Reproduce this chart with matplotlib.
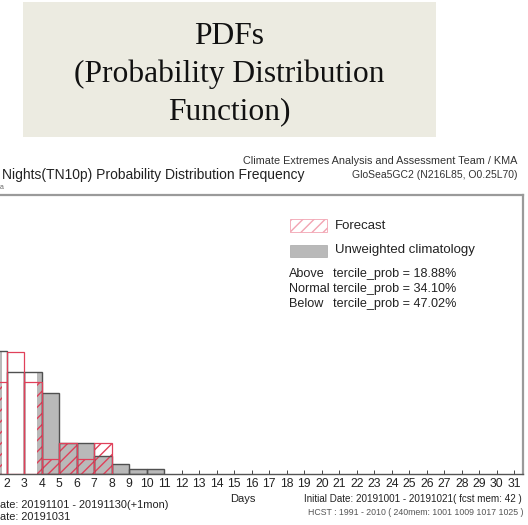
import matplotlib

matplotlib.use("Agg")
import matplotlib.pyplot as plt
from matplotlib.patches import Rectangle

W, H = 528, 525

# bin start day for each bar (bars run from day to day+1)
clim_days = [1, 2, 3, 4, 5, 6, 7, 8, 9, 10]
clim_freq = [19.2, 15.8, 15.8, 12.55, 4.87, 4.87, 2.8, 1.56, 0.73, 0.73]
fcst_days = [1, 2, 3, 4, 5, 6, 7]
fcst_freq = [14.29, 19.05, 14.29, 2.38, 4.76, 2.38, 4.76]

tick_days = list(range(0, 32))
tercile_names = ["Above", "Normal", "Below"]
tercile_probs = [18.88, 34.10, 47.02]

SANS = "Liberation Sans"
CLIM_FILL = "#b9b9b9"
CLIM_EDGE = "#505050"
FCST_RED = "#e0405a"


def fx(px):
    return px / W


def fy(py):
    return 1 - py / H


fig = plt.figure(figsize=(W / 100, H / 100), dpi=100)
fig.patch.set_facecolor("white")

# heading box
fig.add_artist(Rectangle((fx(23), fy(137)), fx(436) - fx(23), fy(2) - fy(137),
                         transform=fig.transFigure, facecolor="#ecebe1",
                         edgecolor="none"))
fig.text(fx(229.5), fy(74), "PDFs\n(Probability Distribution\nFunction)",
         ha="center", va="center", family="Liberation Serif", fontsize=22.7,
         linespacing=1.38, color="#111111")

# main axes (extends past the left edge of the canvas)
left, right, top, bottom = -37, 523, 195, 474
ax = fig.add_axes([fx(left), fy(bottom), fx(right) - fx(left), (bottom - top) / H])
ax.set_xlim(-0.5, 31.5)
ax.set_ylim(0, 43.4)

ax.bar(clim_days, clim_freq, width=1, align="edge", color=CLIM_FILL,
       edgecolor="none", zorder=1)
ax.bar(fcst_days, fcst_freq, width=1, align="edge", fill=False, hatch="///",
       edgecolor=FCST_RED, linewidth=0, zorder=2)
ax.add_patch(Rectangle((1.7, 0), 2.0, 25, facecolor="white", edgecolor="none",
                       zorder=3))
ax.bar(clim_days, clim_freq, width=1, align="edge", fill=False,
       edgecolor=CLIM_EDGE, linewidth=1.0, zorder=4)
ax.bar(fcst_days, fcst_freq, width=1, align="edge", fill=False,
       edgecolor=FCST_RED, linewidth=0.9, zorder=5)

# days 0 and 1 sit left of the canvas, so their labels stay blank
ax.set_xticks(tick_days)
ax.set_xticklabels([str(d) if d >= 2 else "" for d in tick_days], family=SANS,
                   fontsize=8.8, color="#222222")
ax.set_yticks([])
ax.tick_params(axis="x", direction="in", length=3, width=0.7, color="#444444",
               pad=3)
ax.set_xlabel("Days", family=SANS, fontsize=8, color="#222222", labelpad=3)
for side in ("top", "right"):
    ax.spines[side].set_color("#9a9a9a")
    ax.spines[side].set_linewidth(1.6)
ax.spines["bottom"].set_color("#555555")
ax.spines["bottom"].set_linewidth(1.0)

# legend
fig.add_artist(Rectangle((fx(290), fy(232)), fx(37), 13 / H,
                         transform=fig.transFigure, facecolor="none",
                         edgecolor="#f2a4b2", hatch="///", linewidth=0.6))
fig.add_artist(Rectangle((fx(290), fy(257)), fx(37), 12 / H,
                         transform=fig.transFigure, facecolor=CLIM_FILL,
                         edgecolor="#a8a8a8", linewidth=0.5))
fig.text(fx(335), fy(226), "Forecast", family=SANS, fontsize=9.5, va="center",
         color="#222222")
fig.text(fx(335), fy(250.5), "Unweighted climatology", family=SANS, fontsize=9.5,
         va="center", color="#222222")
for i, (name, prob) in enumerate(zip(tercile_names, tercile_probs)):
    y = 274 + i * 15
    fig.text(fx(289), fy(y), name, family=SANS, fontsize=9.1, va="center",
             color="#222222")
    fig.text(fx(333), fy(y), f"tercile_prob = {prob:.2f}%", family=SANS,
             fontsize=9.1, va="center", color="#222222")

# header and footer text
fig.text(fx(305), fy(175), "Nights(TN10p) Probability Distribution Frequency",
         ha="right", va="center", family=SANS, fontsize=10, color="#222222")
fig.text(fx(0), fy(188), "a", ha="left", va="center", family=SANS,
         fontsize=5, color="#666666")
fig.text(fx(517), fy(161), "Climate Extremes Analysis and Assessment Team / KMA",
         ha="right", va="center", family=SANS, fontsize=7.8, color="#333333")
fig.text(fx(517), fy(175.5), "GloSea5GC2 (N216L85, O0.25L70)",
         ha="right", va="center", family=SANS, fontsize=7.5, color="#333333")
fig.text(fx(0), fy(505), "ate: 20191101 - 20191130(+1mon)", ha="left",
         va="center", family=SANS, fontsize=7.9, color="#222222")
fig.text(fx(0), fy(517.5), "ate: 20191031", ha="left", va="center",
         family=SANS, fontsize=7.9, color="#222222")
fig.text(fx(522), fy(499), "Initial Date: 20191001 - 20191021( fcst mem: 42 )",
         ha="right", va="center", family=SANS, fontsize=7.1, color="#222222")
fig.text(fx(523), fy(512.5), "HCST : 1991 - 2010 ( 240mem: 1001 1009 1017 1025 )",
         ha="right", va="center", family=SANS, fontsize=6.3, color="#555555")

fig.savefig("out.png", dpi=100)
